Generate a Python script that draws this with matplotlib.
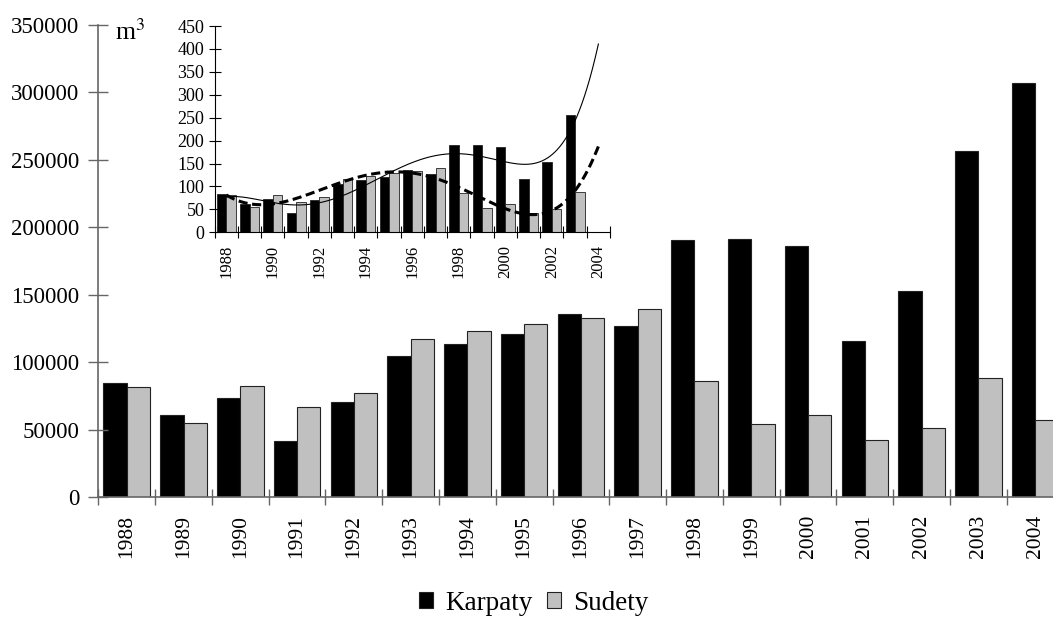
import numpy as np
import matplotlib
matplotlib.use("Agg")
import matplotlib.pyplot as plt

plt.rcParams['font.family'] = ['Liberation Serif', 'DejaVu Serif']
plt.rcParams['mathtext.fontset'] = 'stix'

years = ['1988', '1989', '1990', '1991', '1992', '1993', '1994', '1995', '1996',
         '1997', '1998', '1999', '2000', '2001', '2002', '2003', '2004']
karpaty = [84300, 60800, 73400, 41500, 70400, 104500, 113400, 120900, 135700,
           126800, 190300, 191000, 186100, 115400, 153000, 256600, 306700]
sudety = [81300, 54600, 82300, 66700, 77100, 117200, 123100, 128300, 132700,
          139600, 86200, 53900, 60800, 42000, 50900, 88200, 57100]
main_yticks = [0, 50000, 100000, 150000, 200000, 250000, 300000, 350000]
inset_yticks = [0, 50, 100, 150, 200, 250, 300, 350, 400, 450]
TREND_DEG = 5

K_COLOR = 'black'
S_COLOR = '#c0c0c0'
EDGE = '#222222'
AX_COLOR = '#666666'

fig = plt.figure(figsize=(10.53, 6.18), dpi=100)

# ---------------- main axes ----------------
ax = fig.add_axes([0.0934, 0.1958, 0.9166, 0.7638])
x = np.arange(len(years))
w = 0.41
ax.bar(x - w / 2, karpaty, width=w, color=K_COLOR, edgecolor=EDGE, linewidth=0.8, label='Karpaty')
ax.bar(x + w / 2, sudety, width=w, color=S_COLOR, edgecolor=EDGE, linewidth=0.8, label='Sudety')
ax.set_xlim(-0.5, len(years) - 0.5)
ax.set_ylim(0, 350000)
ax.set_yticks(main_yticks)
ax.set_yticklabels([str(v) for v in main_yticks], fontsize=16.5)
ax.set_xticks(x)
ax.set_xticklabels(years, rotation=90, fontsize=15.5)
ax.set_xticks(np.arange(-0.5, len(years)), minor=True)
ax.tick_params(axis='x', which='major', length=0, pad=13)
ax.tick_params(axis='x', which='minor', length=12, direction='inout', color=AX_COLOR, width=1)
ax.tick_params(axis='y', length=15, direction='inout', color=AX_COLOR, width=1, pad=6)
for s in ['top', 'right']:
    ax.spines[s].set_visible(False)
for s in ['left', 'bottom']:
    ax.spines[s].set_color(AX_COLOR)
    ax.spines[s].set_linewidth(1.2)
ax.patch.set_alpha(0)
ax.text(0.109, 0.935, 'm$^3$', transform=fig.transFigure, fontsize=18.5, va='baseline', ha='left')

# ---------------- inset ----------------
n_in = len(years) - 1
k_in = np.array(karpaty[:n_in]) / 1000.0
s_in = np.array(sudety[:n_in]) / 1000.0
ins = fig.add_axes([0.2039, 0.6241, 0.3754, 0.3338])
xi = np.arange(n_in)
ins.bar(xi - w / 2, k_in, width=w, color=K_COLOR, edgecolor=EDGE, linewidth=0.6)
ins.bar(xi + w / 2, s_in, width=w, color=S_COLOR, edgecolor=EDGE, linewidth=0.6)

# polynomial trend lines (fitted to the data, extended to 2004)
xf = np.linspace(0, len(years) - 1, 300)
pk = np.polyfit(xi + 1, k_in, TREND_DEG)
ps = np.polyfit(xi + 1, s_in, TREND_DEG)
ins.plot(xf, np.polyval(pk, xf + 1), color='black', lw=0.8)
ins.plot(xf, np.polyval(ps, xf + 1), color='black', lw=2.2, ls=(0, (3, 1.5)))

ins.set_xlim(-0.5, len(years) - 0.5)
ins.set_ylim(0, 450)
ins.set_yticks(inset_yticks)
ins.set_yticklabels([str(v) for v in inset_yticks], fontsize=13)
ins.set_xticks(np.arange(0, len(years), 2))
ins.set_xticklabels(years[::2], rotation=90, fontsize=12)
ins.set_xticks(np.arange(-0.5, len(years)), minor=True)
ins.tick_params(axis='x', which='major', length=0, pad=9)
ins.tick_params(axis='x', which='minor', length=9, direction='inout', color='black', width=0.8)
ins.tick_params(axis='y', length=9, direction='inout', color='black', width=0.8, pad=3)
for s in ['top', 'right']:
    ins.spines[s].set_visible(False)
for s in ['left', 'bottom']:
    ins.spines[s].set_linewidth(0.8)
ins.patch.set_alpha(0)

# ---------------- legend ----------------
fig.legend(*ax.get_legend_handles_labels(), loc='center', bbox_to_anchor=(0.507, 0.024),
           ncol=2, frameon=False, fontsize=19.5, handlelength=0.5, handleheight=0.5,
           handletextpad=0.45, columnspacing=0.55)

fig.savefig('out.png', dpi=100)
